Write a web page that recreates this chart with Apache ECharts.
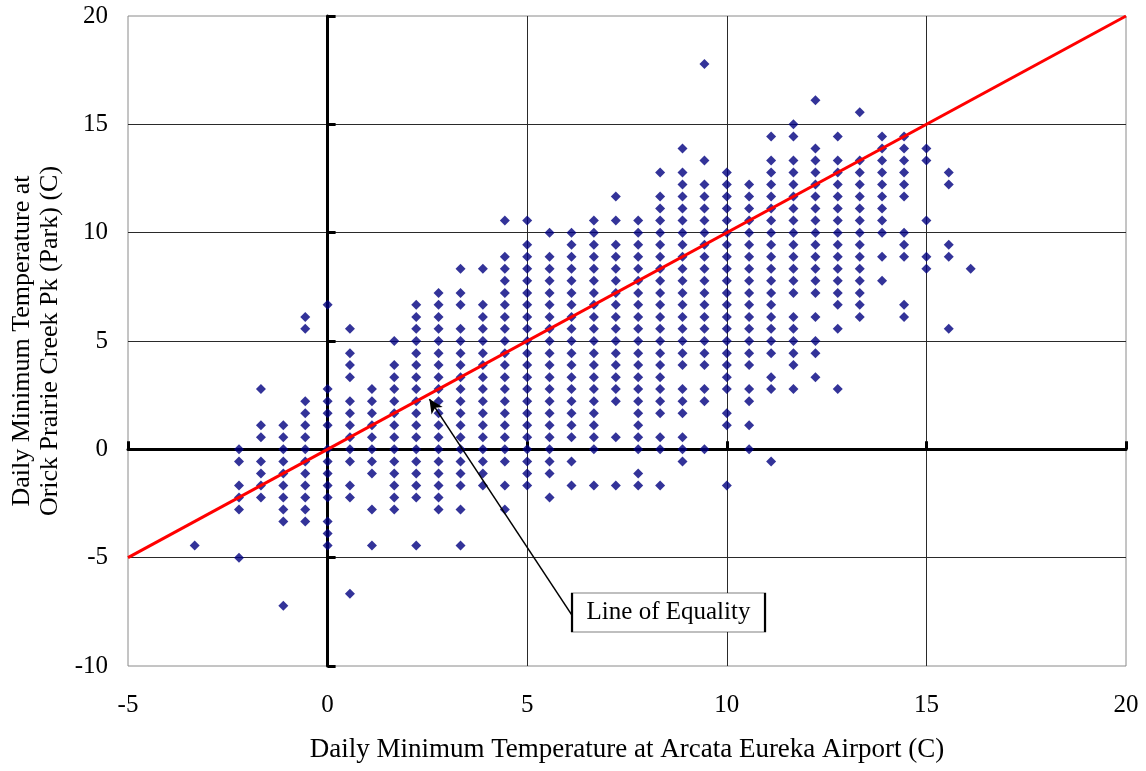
<!DOCTYPE html>
<html>
<head>
<meta charset="utf-8">
<script src="https://cdn.jsdelivr.net/npm/echarts@6/dist/echarts.min.js"></script>
<style>
  html, body { margin: 0; padding: 0; background: #ffffff; }
  #chart { width: 1146px; height: 771px; }
</style>
</head>
<body>
<div id="chart"></div>
<script>
// Daily minimum temperatures (°C). Each airport reading has the list of
// park readings recorded on days with that airport minimum.
const airportTemps = [
  -3.33, -2.22, -1.67, -1.11, -0.56, 0.00, 0.56, 1.11, 1.67, 2.22,
  2.78, 3.33, 3.89, 4.44, 5.00, 5.56, 6.11, 6.67, 7.22, 7.78,
  8.33, 8.89, 9.44, 10.00, 10.56, 11.11, 11.67, 12.22, 12.78, 13.33,
  13.89, 14.44, 15.00, 15.56, 16.11
];

const parkTemps = [
  [-4.44],
  [0, -0.56, -1.67, -2.22, -2.78, -5.00],
  [2.78, 1.11, 0.56, -0.56, -1.11, -1.67, -2.22],
  [1.11, 0.56, 0, -0.56, -1.11, -1.67, -2.22, -2.78, -3.33, -7.22],
  [6.11, 5.56, 2.22, 1.67, 1.11, 0.56, 0, -0.56, -1.11, -1.67, -2.22, -2.78, -3.33],
  [6.67, 2.78, 2.22, 1.67, 1.11, 0, -0.56, -1.11, -1.67, -2.22, -3.33, -3.89, -4.44],
  [5.56, 4.44, 3.89, 3.33, 2.22, 1.67, 1.11, 0.56, 0, -0.56, -1.67, -2.22, -6.67],
  [2.78, 2.22, 1.67, 1.11, 0.56, 0, -0.56, -1.11, -2.78, -4.44],
  [5.00, 3.89, 3.33, 2.78, 2.22, 1.67, 1.11, 0.56, 0, -0.56, -1.11, -1.67, -2.22, -2.78],
  [6.67, 6.11, 5.56, 5.00, 4.44, 3.89, 3.33, 2.78, 2.22, 1.67, 1.11, 0.56, 0, -0.56, -1.11, -1.67, -2.22, -4.44],
  [7.22, 6.67, 6.11, 5.56, 5.00, 4.44, 3.89, 3.33, 2.78, 2.22, 1.67, 1.11, 0.56, 0, -0.56, -1.11, -1.67, -2.22, -2.78],
  [8.33, 7.22, 6.67, 5.56, 5.00, 4.44, 3.89, 3.33, 2.78, 2.22, 1.67, 1.11, 0.56, 0, -0.56, -1.11, -1.67, -2.78, -4.44],
  [8.33, 6.67, 6.11, 5.56, 5.00, 4.44, 3.89, 3.33, 2.78, 2.22, 1.67, 1.11, 0.56, 0, -0.56, -1.11, -1.67],
  [10.56, 8.89, 8.33, 7.78, 7.22, 6.67, 6.11, 5.56, 5.00, 4.44, 3.89, 3.33, 2.78, 2.22, 1.67, 1.11, 0.56, 0, -0.56, -1.67, -2.78],
  [10.56, 9.44, 8.89, 8.33, 7.78, 7.22, 6.67, 6.11, 5.56, 5.00, 4.44, 3.89, 3.33, 2.78, 2.22, 1.67, 1.11, 0.56, 0, -0.56, -1.11, -1.67],
  [10.00, 8.89, 8.33, 7.78, 7.22, 6.67, 6.11, 5.56, 5.00, 4.44, 3.89, 3.33, 2.78, 2.22, 1.67, 1.11, 0.56, 0, -0.56, -1.11, -2.22],
  [10.00, 9.44, 8.89, 8.33, 7.78, 7.22, 6.67, 6.11, 5.56, 5.00, 4.44, 3.89, 3.33, 2.78, 2.22, 1.67, 1.11, 0.56, -0.56, -1.67],
  [10.56, 10.00, 9.44, 8.89, 8.33, 7.78, 7.22, 6.67, 6.11, 5.56, 5.00, 4.44, 3.89, 3.33, 2.78, 2.22, 1.67, 1.11, 0.56, 0, -1.67],
  [11.67, 10.56, 9.44, 8.89, 8.33, 7.78, 7.22, 6.67, 6.11, 5.56, 5.00, 4.44, 3.89, 3.33, 2.78, 2.22, 0.56, -1.67],
  [10.56, 10.00, 9.44, 8.89, 8.33, 7.78, 7.22, 6.67, 6.11, 5.56, 5.00, 4.44, 3.89, 3.33, 2.78, 2.22, 1.67, 1.11, 0.56, 0, -1.11, -1.67],
  [12.78, 11.67, 11.11, 10.56, 10.00, 9.44, 8.89, 8.33, 7.78, 7.22, 6.67, 6.11, 5.56, 5.00, 4.44, 3.89, 3.33, 2.78, 2.22, 1.67, 0.56, 0, -1.67],
  [13.89, 12.78, 12.22, 11.67, 11.11, 10.56, 10.00, 9.44, 8.89, 8.33, 7.78, 7.22, 6.67, 6.11, 5.56, 5.00, 4.44, 3.89, 2.78, 2.22, 1.67, 0.56, 0, -0.56],
  [17.78, 13.33, 12.22, 11.67, 11.11, 10.56, 10.00, 9.44, 8.89, 8.33, 7.78, 7.22, 6.67, 6.11, 5.56, 5.00, 4.44, 3.89, 2.78, 2.22, 0],
  [12.78, 12.22, 11.67, 11.11, 10.56, 10.00, 9.44, 8.89, 8.33, 7.78, 7.22, 6.67, 6.11, 5.56, 5.00, 4.44, 3.89, 3.33, 2.78, 1.67, 1.11, -1.67],
  [12.22, 11.67, 11.11, 10.56, 10.00, 9.44, 8.89, 8.33, 7.78, 7.22, 6.67, 6.11, 5.56, 5.00, 4.44, 3.89, 2.78, 2.22, 1.11, 0],
  [14.44, 13.33, 12.78, 12.22, 11.67, 11.11, 10.56, 10.00, 9.44, 8.89, 8.33, 7.78, 7.22, 6.67, 6.11, 5.56, 5.00, 4.44, 3.33, 2.78, -0.56],
  [15.00, 14.44, 13.33, 12.78, 12.22, 11.67, 11.11, 10.56, 10.00, 9.44, 8.89, 8.33, 7.78, 7.22, 6.11, 5.56, 5.00, 4.44, 3.89, 2.78],
  [16.11, 13.89, 13.33, 12.78, 12.22, 11.67, 11.11, 10.56, 10.00, 9.44, 8.89, 8.33, 7.78, 7.22, 6.11, 5.00, 4.44, 3.33],
  [14.44, 13.33, 12.78, 12.22, 11.67, 11.11, 10.56, 10.00, 9.44, 8.89, 8.33, 7.78, 7.22, 6.67, 5.56, 2.78],
  [15.56, 13.33, 12.78, 12.22, 11.67, 11.11, 10.56, 10.00, 9.44, 8.89, 8.33, 7.78, 7.22, 6.67, 6.11],
  [14.44, 13.89, 13.33, 12.78, 12.22, 11.67, 11.11, 10.56, 10.00, 8.89, 7.78],
  [14.44, 13.89, 13.33, 12.78, 12.22, 11.67, 10.00, 9.44, 8.89, 6.67, 6.11],
  [13.89, 13.33, 10.56, 8.89, 8.33],
  [12.78, 12.22, 9.44, 8.89, 5.56],
  [8.33]
];

// 1:1 reference line end points
const equalityLine = [[-5, -5], [20, 20]];

// Axis ranges
const xRange = { min: -5, max: 20, step: 5 };
const yRange = { min: -10, max: 20, step: 5 };

const xTitle = 'Daily Minimum Temperature at Arcata Eureka Airport (C)';
const yTitle = 'Daily Minimum Temperature at\nOrick Prairie Creek Pk (Park) (C)';
const noteText = 'Line of Equality';

const points = [];
airportTemps.forEach((x, i) => {
  parkTemps[i].forEach(y => points.push([x, y]));
});

const FONT = "'Liberation Serif', 'Times New Roman', serif";

const chart = echarts.init(document.getElementById('chart'), null, { renderer: 'canvas' });

// Heavy zero lines with their own ticks, laid over the plot
const zeroAxisCommon = {
  type: 'value',
  axisLine: { show: true, onZero: true, onZeroAxisIndex: 0, lineStyle: { color: '#000', width: 3 } },
  axisTick: { show: true, inside: false, length: 8, lineStyle: { color: '#000', width: 3 } },
  axisLabel: { show: false },
  splitLine: { show: false }
};

chart.setOption({
  animation: false,
  backgroundColor: '#ffffff',
  grid: {
    left: 128, right: 20, top: 16, bottom: 105,
    outerBoundsMode: 'none',
    containLabel: false,
    show: true, borderColor: '#8a8a8a', borderWidth: 1, backgroundColor: 'transparent'
  },
  xAxis: [
    {
      type: 'value', position: 'bottom',
      min: xRange.min, max: xRange.max, interval: xRange.step,
      name: xTitle, nameLocation: 'middle', nameGap: 70,
      nameTextStyle: { fontFamily: FONT, fontSize: 27, color: '#000' },
      axisLine: { show: false, onZero: false },
      axisTick: { show: false },
      axisLabel: { fontFamily: FONT, fontSize: 25, color: '#000', margin: 27 },
      splitLine: { show: true, showMinLine: false, showMaxLine: false, lineStyle: { color: '#2a2a2a', width: 1 } }
    },
    Object.assign({ position: 'top', min: xRange.min, max: xRange.max, interval: xRange.step }, zeroAxisCommon)
  ],
  yAxis: [
    {
      type: 'value', position: 'left',
      min: yRange.min, max: yRange.max, interval: yRange.step,
      name: yTitle, nameLocation: 'middle', nameGap: 60, nameRotate: 90,
      nameTextStyle: { fontFamily: FONT, fontSize: 26, color: '#000', lineHeight: 28, align: 'center' },
      axisLine: { show: false, onZero: false },
      axisTick: { show: false },
      axisLabel: { fontFamily: FONT, fontSize: 25, color: '#000', margin: 20 },
      splitLine: { show: true, showMinLine: false, showMaxLine: false, lineStyle: { color: '#2a2a2a', width: 1 } }
    },
    Object.assign({ position: 'right', min: yRange.min, max: yRange.max, interval: yRange.step }, zeroAxisCommon)
  ],
  series: [
    {
      name: 'Daily minimum',
      type: 'scatter',
      xAxisIndex: 0, yAxisIndex: 0,
      data: points,
      symbol: 'diamond',
      symbolSize: 10,
      itemStyle: { color: '#000080' },
      z: 2
    },
    {
      name: noteText,
      type: 'line',
      xAxisIndex: 0, yAxisIndex: 0,
      data: equalityLine,
      symbol: 'none',
      lineStyle: { color: '#ff0000', width: 3 },
      z: 3,
      markLine: {
        silent: true,
        animation: false,
        symbol: ['none', 'arrow'],
        symbolSize: [10, 14],
        label: { show: false },
        lineStyle: { color: '#000', width: 1.5, type: 'solid' },
        data: [[
          { coord: [6.12, -7.65], symbol: 'none' },
          { coord: [2.55, 2.32], symbol: 'arrow' }
        ]]
      },
      markPoint: {
        silent: true,
        animation: false,
        data: [{
          coord: [8.54, -7.53],
          symbol: 'rect',
          symbolSize: [193, 39],
          itemStyle: { color: '#ffffff', borderColor: '#000', borderWidth: 1 },
          label: {
            show: true, position: 'inside', formatter: noteText,
            fontFamily: FONT, fontSize: 25, color: '#000'
          }
        }]
      }
    }
  ]
});
</script>
</body>
</html>
